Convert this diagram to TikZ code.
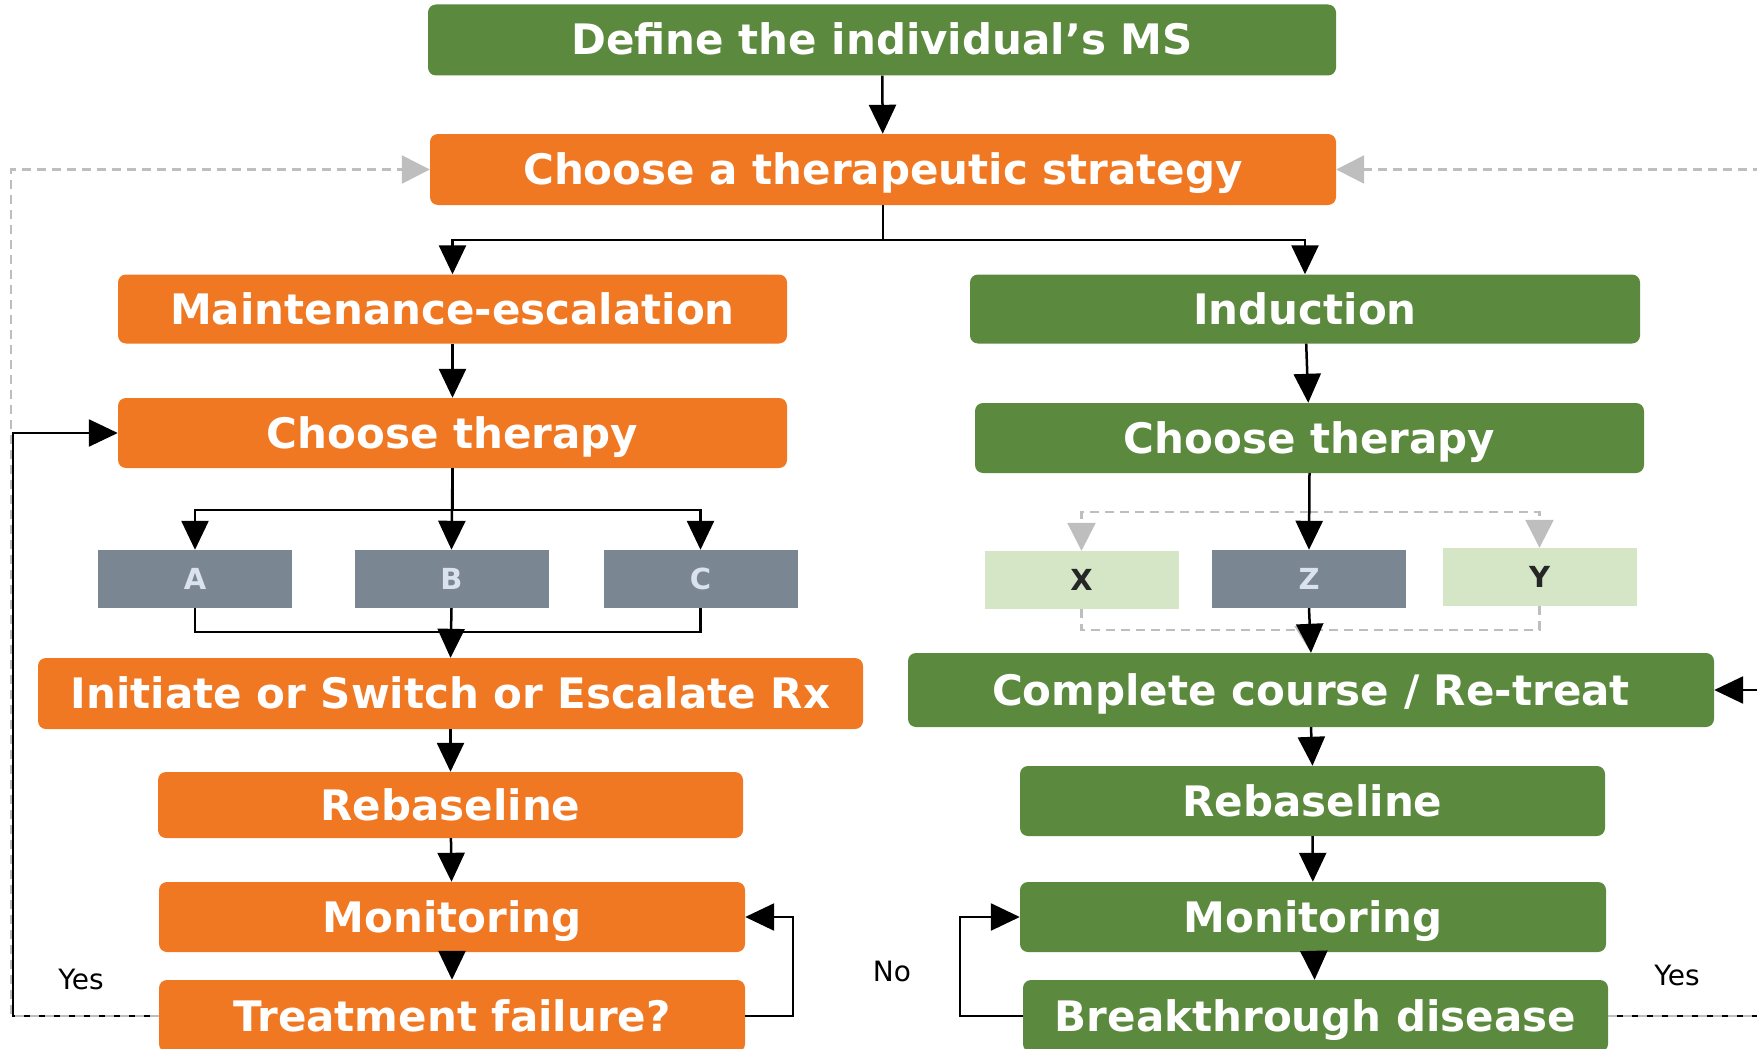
\documentclass[tikz,border=0pt]{standalone}
\usepackage{fontspec}
\setmainfont{DejaVu Sans}
\usetikzlibrary{arrows.meta}

\definecolor{msorange}{HTML}{F07823}
\definecolor{msgreen}{HTML}{5B893D}
\definecolor{drugslate}{HTML}{7A8692}
\definecolor{druglight}{HTML}{D4E6C6}
\definecolor{druglabel}{HTML}{D9E2EE}
\definecolor{dashgray}{HTML}{BEBEBE}

\tikzset{
  box/.style={rectangle, rounded corners=8pt, inner sep=0pt, text=white,
    text height=30pt, text depth=0pt,
    font=\bfseries\fontsize{42}{50}\selectfont},
  obox/.style={box, fill=msorange},
  gbox/.style={box, fill=msgreen},
  drug/.style={rectangle, inner sep=0pt, minimum width=194pt, minimum height=58pt,
    text height=21pt, text depth=0pt,
    font=\bfseries\fontsize{29}{35}\selectfont},
  darkdrug/.style={drug, fill=drugslate, text=druglabel},
  lightdrug/.style={drug, fill=druglight, text=black!85},
  answer/.style={font=\fontsize{28}{33}\selectfont},
  link/.style={draw=black, line width=2.5pt},
  arr/.style={link, -{Triangle[length=29pt,width=27pt]}},
  gline/.style={draw=dashgray, line width=2.5pt, dash pattern=on 9pt off 6pt},
  garr/.style={gline, -{Triangle[length=28pt,width=28pt]}},
}

\begin{document}
\begin{tikzpicture}[x=1pt, y=-1pt]
  \useasboundingbox (0,0) rectangle (1757,1049);

  % top
  \node[gbox, minimum width=908pt, minimum height=71pt] (define) at (882,40) {Define the individual’s MS};
  \node[obox, minimum width=906pt, minimum height=71pt] (strategy) at (883,169.5) {Choose a therapeutic strategy};

  % maintenance-escalation branch
  \node[obox, minimum width=669pt, minimum height=69pt] (maint) at (452.5,309) {Maintenance-escalation};
  \node[obox, minimum width=669pt, minimum height=70pt] (chooseL) at (452.5,433) {Choose therapy};
  \node[darkdrug] (A) at (195,579) {A};
  \node[darkdrug] (B) at (451.5,579) {B};
  \node[darkdrug] (C) at (700.5,579) {C};
  \node[obox, minimum width=825pt, minimum height=71pt] (initiate) at (450.5,693.5) {Initiate or Switch or Escalate Rx};
  \node[obox, minimum width=585pt, minimum height=66pt] (rebL) at (450.5,805) {Rebaseline};
  \node[obox, minimum width=586pt, minimum height=70pt] (monL) at (452,917) {Monitoring};
  \node[obox, minimum width=586pt, minimum height=72pt] (fail) at (452,1016) {Treatment failure?};

  % induction branch
  \node[gbox, minimum width=670pt, minimum height=69pt] (induct) at (1305,309) {Induction};
  \node[gbox, minimum width=669pt, minimum height=70pt] (chooseR) at (1309.5,438) {Choose therapy};
  \node[lightdrug] (X) at (1081.5,580) {X};
  \node[darkdrug] (Z) at (1309,579) {Z};
  \node[lightdrug] (Y) at (1539.5,577) {Y};
  \node[gbox, minimum width=806pt, minimum height=74pt] (complete) at (1311,690) {Complete course / Re-treat};
  \node[gbox, minimum width=585pt, minimum height=70pt] (rebR) at (1312.5,801) {Rebaseline};
  \node[gbox, minimum width=586pt, minimum height=70pt] (monR) at (1313,917) {Monitoring};
  \node[gbox, minimum width=585pt, minimum height=72pt] (break) at (1315.5,1016) {Breakthrough disease};

  % answers
  \node[answer] (yesL) at (81,979) {Yes};
  \node[answer] (noR) at (892,971) {No};
  \node[answer] (yesR) at (1677,975) {Yes};

  \coordinate (topbar) at (1309,512);
  \coordinate (botbar) at (1309,630);

  % connectors
  \draw[arr] (define) -- (strategy);
  \draw[arr] (strategy.south) -- ++(0,35) -| (maint.north);
  \draw[arr] (strategy.south) -- ++(0,35) -| (induct.north);
  \draw[arr] (maint) -- (chooseL);
  \draw[arr] (chooseL.south) -- ++(0,42) -| (A.north);
  \draw[arr] (chooseL.south) -- (B.north);
  \draw[arr] (chooseL.south) -- ++(0,42) -| (C.north);
  \draw[link] (A.south) -- ++(0,24) -| (C.south);
  \draw[arr] (B.south) -- (initiate.north);
  \draw[arr] (initiate) -- (rebL);
  \draw[arr] (rebL) -- (monL);
  \draw[arr] (monL) -- (fail);
  \draw[arr] (fail.east) -- ++(48,0) |- (monL.east);

  \draw[garr] (topbar) -| (X.north);
  \draw[garr] (topbar) -| (Y.north);
  \draw[gline] (X.south) |- (botbar);
  \draw[gline] (Y.south) |- (botbar);
  \draw[garr] (botbar) -- (complete.north);
  \draw[arr] (induct) -- (chooseR);
  \draw[arr] (chooseR.south) -- (Z.north);
  \draw[arr] (Z.south) -- (complete.north);
  \draw[arr] (complete.south) -- (rebR.north);
  \draw[arr] (rebR) -- (monR);
  \draw[arr] (monR) -- (break);
  \draw[arr] (break.west) -- ++(-63,0) |- (monR.west);

  % yes loops back
  \draw[arr] (fail.west) -- (13,1016) |- (chooseL.west);
  \draw[garr] (fail.west) -- (11,1016) |- (strategy.west);
  \draw[arr] (break.east) -- (1770,1016) |- (complete.east);
  \draw[garr] (break.east) -- (1772,1016) |- (strategy.east);
\end{tikzpicture}
\end{document}
